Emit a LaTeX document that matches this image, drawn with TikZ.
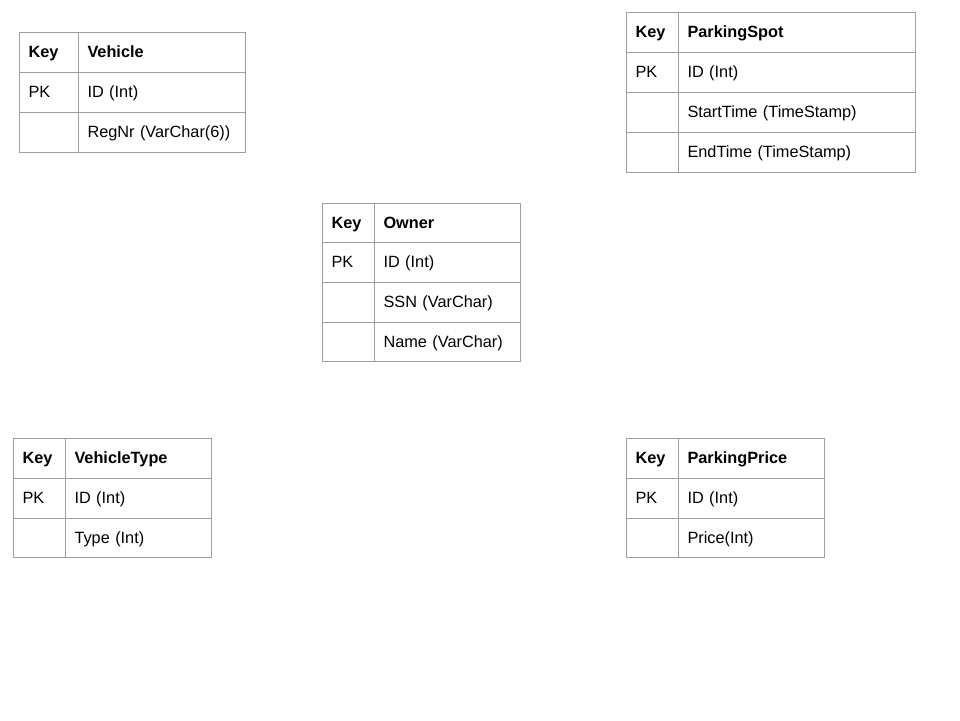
\documentclass[tikz,border=0pt]{standalone}
\usepackage{fontspec}
\setmainfont{Liberation Sans}
\definecolor{linegray}{HTML}{9E9E9E}
\tikzset{
  cellbox/.style={draw=linegray, line width=1pt, anchor=north west, inner xsep=9.5pt, inner ysep=0pt,
    outer sep=0pt, minimum height=40pt, text height=14.5pt, text depth=3.5pt,
    font=\fontsize{16.3}{19}\selectfont, align=left}
}
\newcommand\cellnode[6][]{\node[cellbox, text width=\dimexpr #5pt-19pt\relax, #1] (#2) at (#3,#4) {#6};}
\begin{document}
\begin{tikzpicture}[x=1pt,y=-1pt]
\fill[white] (0,0) rectangle (960,720);
\useasboundingbox (0,0) rectangle (960,720);
% Vehicle
\cellnode{vk0}{19}{32}{59}{\textbf{Key}}
\cellnode{vf0}{78}{32}{167}{\textbf{Vehicle}}
\cellnode{vk1}{19}{72}{59}{PK}
\cellnode{vf1}{78}{72}{167}{ID (Int)}
\cellnode{vk2}{19}{112}{59}{}
\cellnode{vf2}{78}{112}{167}{RegNr (VarChar(6))}
% ParkingSpot
\cellnode{sk0}{626}{12}{52}{\textbf{Key}}
\cellnode{sf0}{678}{12}{237}{\textbf{ParkingSpot}}
\cellnode{sk1}{626}{52}{52}{PK}
\cellnode{sf1}{678}{52}{237}{ID (Int)}
\cellnode{sk2}{626}{92}{52}{}
\cellnode{sf2}{678}{92}{237}{StartTime (TimeStamp)}
\cellnode{sk3}{626}{132}{52}{}
\cellnode{sf3}{678}{132}{237}{EndTime (TimeStamp)}
% Owner
\cellnode[minimum height=39pt]{ok0}{322}{203}{52}{\textbf{Key}}
\cellnode[minimum height=39pt]{of0}{374}{203}{146}{\textbf{Owner}}
\cellnode{ok1}{322}{242}{52}{PK}
\cellnode{of1}{374}{242}{146}{ID (Int)}
\cellnode{ok2}{322}{282}{52}{}
\cellnode{of2}{374}{282}{146}{SSN (VarChar)}
\cellnode[minimum height=39pt]{ok3}{322}{322}{52}{}
\cellnode[minimum height=39pt]{of3}{374}{322}{146}{Name (VarChar)}
% VehicleType
\cellnode{tk0}{13}{438}{52}{\textbf{Key}}
\cellnode{tf0}{65}{438}{146}{\textbf{VehicleType}}
\cellnode{tk1}{13}{478}{52}{PK}
\cellnode{tf1}{65}{478}{146}{ID (Int)}
\cellnode[minimum height=39pt]{tk2}{13}{518}{52}{}
\cellnode[minimum height=39pt]{tf2}{65}{518}{146}{Type (Int)}
% ParkingPrice
\cellnode{pk0}{626}{438}{52}{\textbf{Key}}
\cellnode{pf0}{678}{438}{146}{\textbf{ParkingPrice}}
\cellnode{pk1}{626}{478}{52}{PK}
\cellnode{pf1}{678}{478}{146}{ID (Int)}
\cellnode[minimum height=39pt]{pk2}{626}{518}{52}{}
\cellnode[minimum height=39pt]{pf2}{678}{518}{146}{Price(Int)}
\end{tikzpicture}
\end{document}
